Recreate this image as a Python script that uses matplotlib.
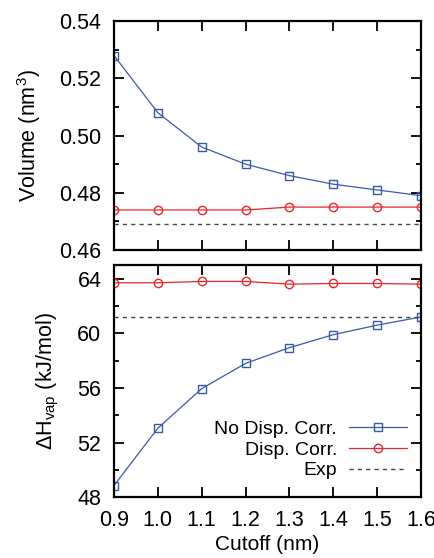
import matplotlib.pyplot as plt
import numpy as np
from matplotlib.ticker import MultipleLocator

plt.rcParams['font.family'] = ['Liberation Sans', 'DejaVu Sans']
plt.rcParams['mathtext.fontset'] = 'custom'
plt.rcParams['mathtext.rm'] = 'Liberation Sans'

cutoff = [0.9, 1.0, 1.1, 1.2, 1.3, 1.4, 1.5, 1.6]

# molecular volume
vol_no_corr = [0.528, 0.508, 0.496, 0.490, 0.486, 0.483, 0.481, 0.479]
vol_corr = [0.474, 0.474, 0.474, 0.474, 0.475, 0.475, 0.475, 0.475]
vol_exp = 0.469

# heat of vaporisation
dh_no_corr = [48.85, 53.05, 55.95, 57.8, 58.95, 59.9, 60.6, 61.2]
dh_corr = [63.7, 63.7, 63.8, 63.8, 63.6, 63.65, 63.65, 63.6]
dh_exp = 61.2

blue = '#3a5aa8'
red = '#e8262b'

fig = plt.figure(figsize=(4.35, 5.58), dpi=100)
ax1 = fig.add_axes([0.262, 0.552, 0.706, 0.410])
ax2 = fig.add_axes([0.262, 0.109, 0.706, 0.416])

def style(ax):
    for s in ax.spines.values():
        s.set_linewidth(1.6)
    ax.tick_params(which='both', direction='in', top=True, right=True,
                   labelsize=15.5, width=1.3)
    ax.tick_params(which='major', length=7)
    ax.tick_params(axis='y', which='major', pad=9)
    ax.tick_params(axis='x', which='major', pad=9)
    ax.tick_params(which='minor', length=3.5)
    ax.set_xlim(0.9, 1.6)
    ax.xaxis.set_major_locator(MultipleLocator(0.1))

ax1.plot(cutoff, vol_no_corr, color=blue, lw=0.9, marker='s', ms=6,
         mfc='none', mec=blue, mew=1.0)
ax1.plot(cutoff, vol_corr, color=red, lw=0.9, marker='o', ms=6,
         mfc='none', mec=red, mew=1.0)
ax1.axhline(vol_exp, color='#444444', lw=1.0, ls=(0, (3, 3)))
style(ax1)
ax1.set_ylim(0.46, 0.54)
ax1.yaxis.set_major_locator(MultipleLocator(0.02))
ax1.yaxis.set_minor_locator(MultipleLocator(0.01))
ax1.yaxis.set_major_formatter(plt.FormatStrFormatter('%.2f'))
ax1.tick_params(axis='x', labelbottom=False)
ax1.set_ylabel('Volume (nm$^3$)', fontsize=15.5, labelpad=12)

ax2.plot(cutoff, dh_no_corr, color=blue, lw=0.9, marker='s', ms=6,
         mfc='none', mec=blue, mew=1.0, label='No Disp. Corr.')
ax2.plot(cutoff, dh_corr, color=red, lw=0.9, marker='o', ms=6,
         mfc='none', mec=red, mew=1.0, label='Disp. Corr.')
ax2.axhline(dh_exp, color='#444444', lw=1.0, ls=(0, (3, 3)), label='Exp')
style(ax2)
ax2.set_ylim(48, 65)
ax2.yaxis.set_major_locator(MultipleLocator(4))
ax2.yaxis.set_minor_locator(MultipleLocator(2))
ax2.xaxis.set_major_formatter(plt.FormatStrFormatter('%.1f'))
ax2.set_ylabel(r'$\Delta$H$_{\mathrm{vap}}$ (kJ/mol)', fontsize=15.5, labelpad=12)
ax2.set_xlabel('Cutoff (nm)', fontsize=15, labelpad=3)
ax2.legend(loc='lower right', bbox_to_anchor=(0.986, 0.035), frameon=False,
           markerfirst=False, fontsize=14, handlelength=3.0,
           labelspacing=0.15, handletextpad=0.6, borderpad=0)

fig.savefig('out.png', dpi=100)
